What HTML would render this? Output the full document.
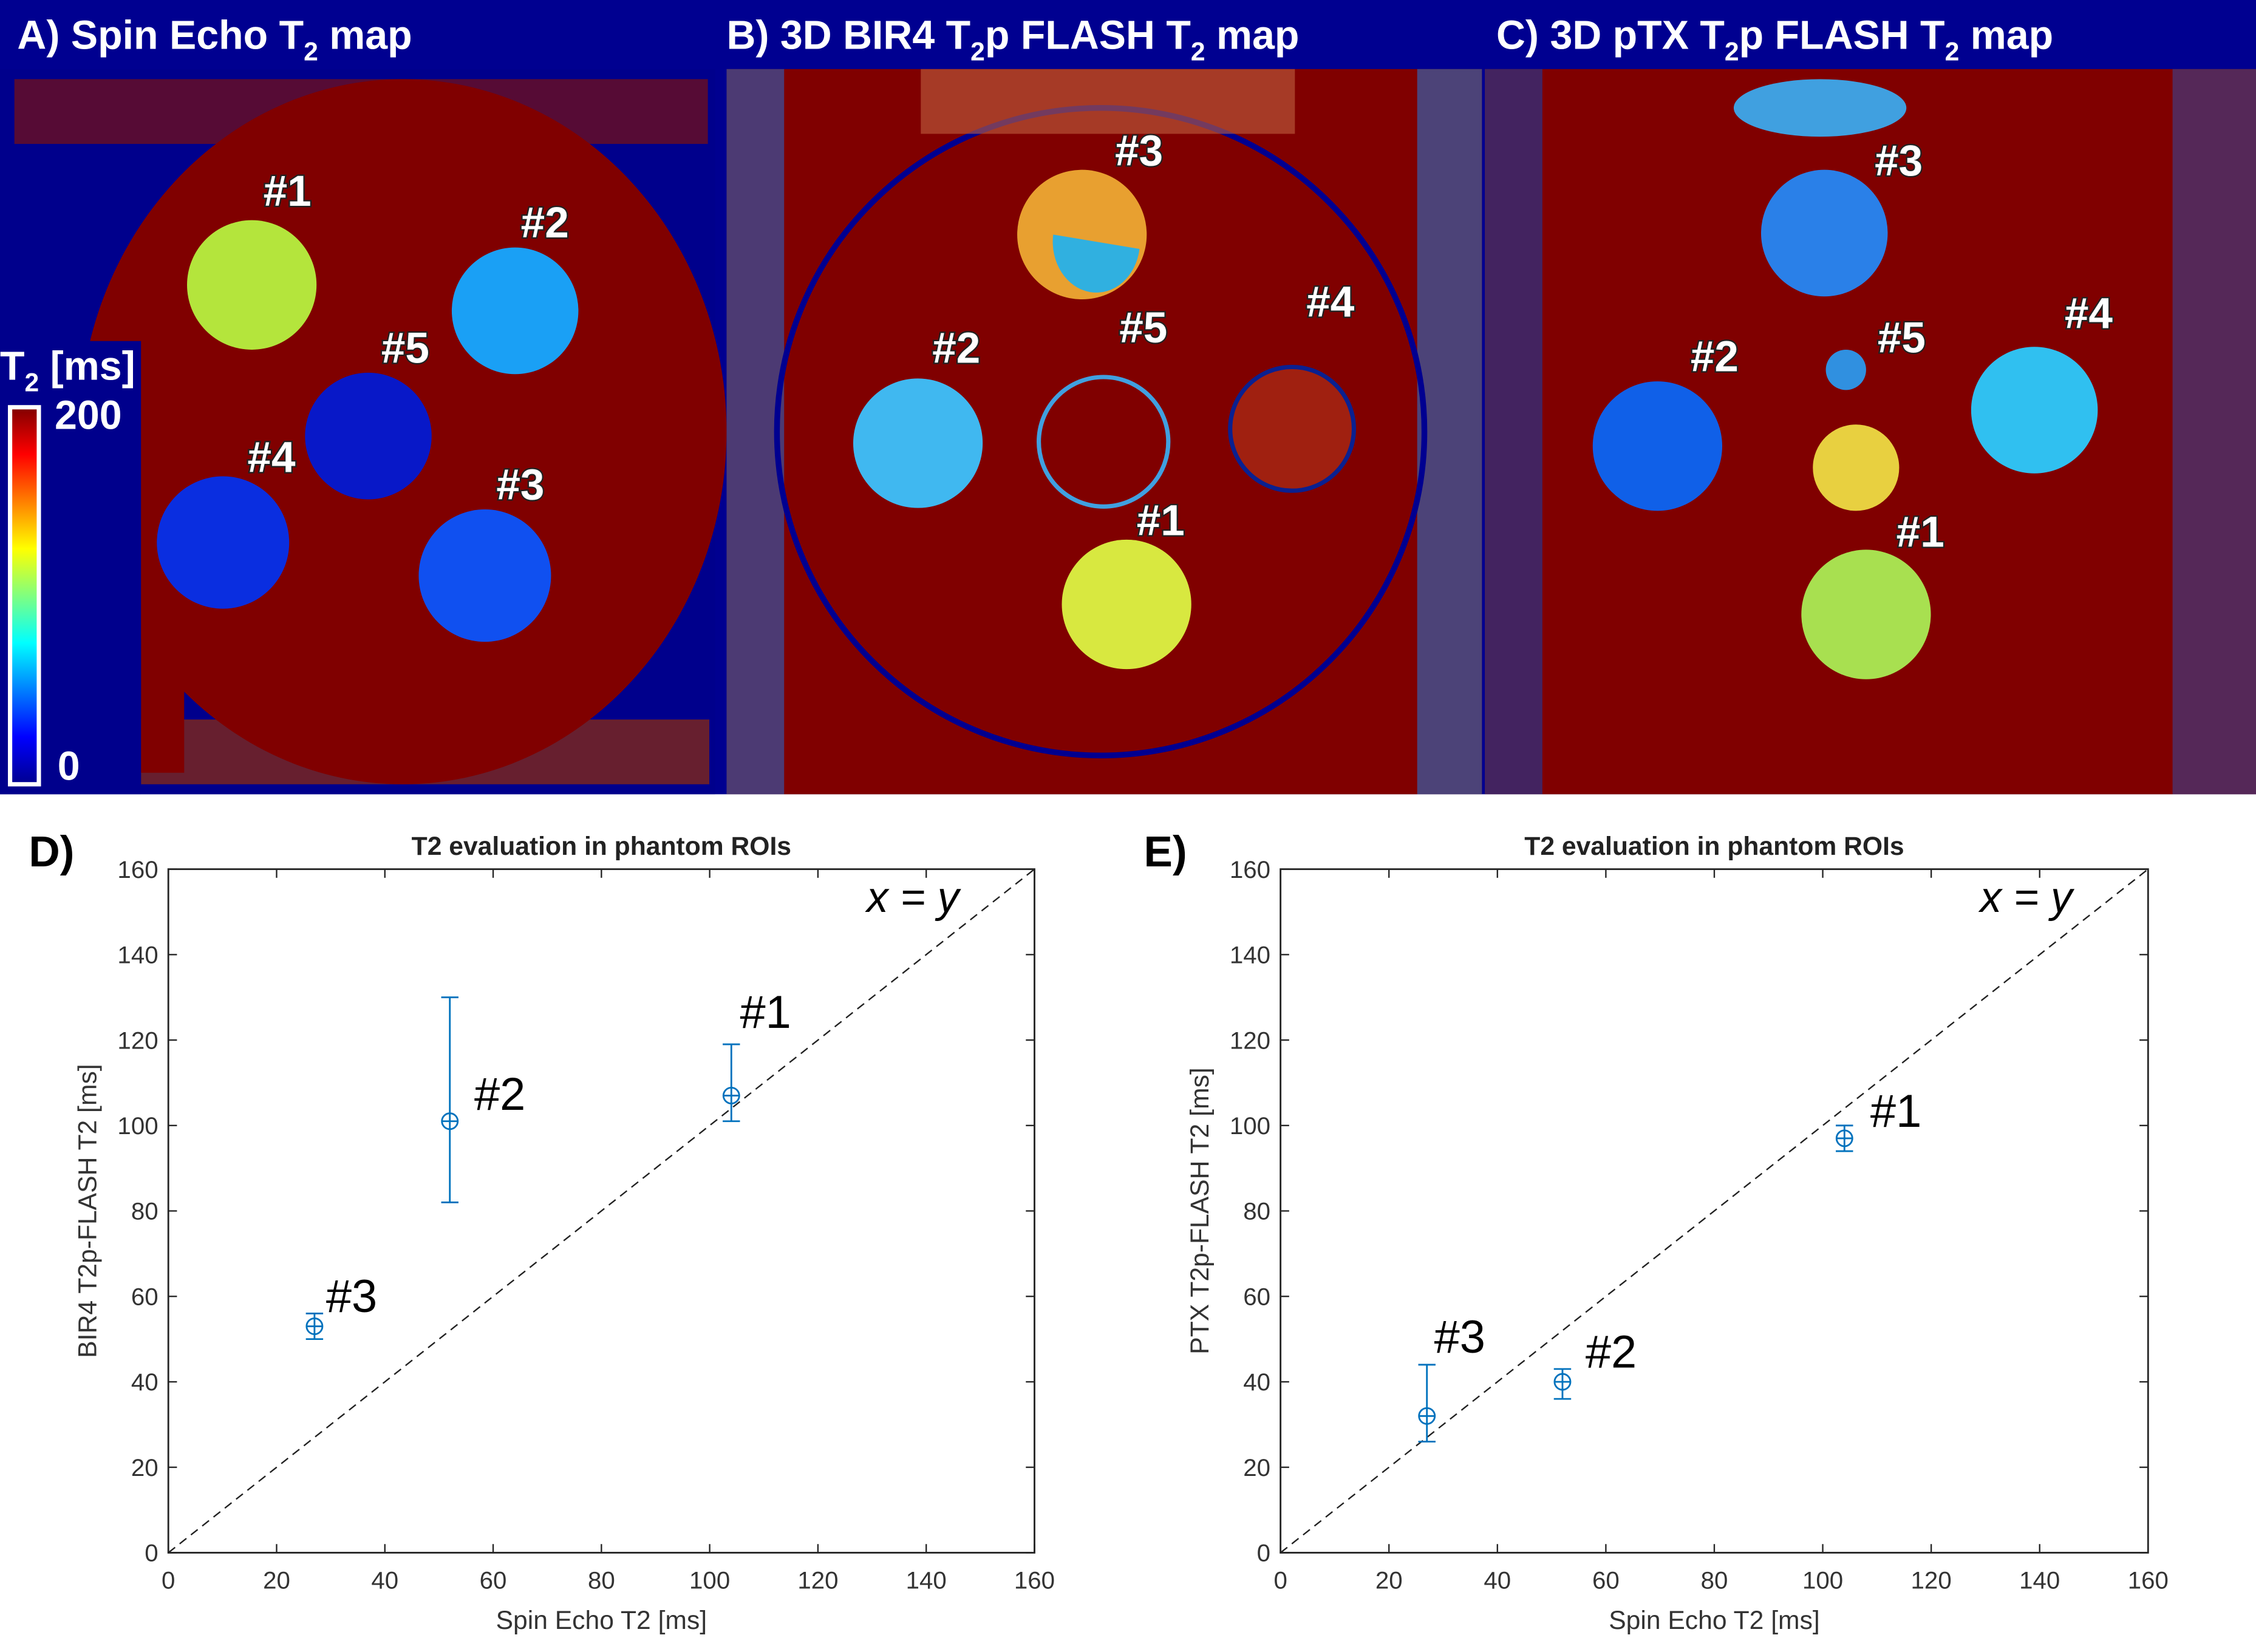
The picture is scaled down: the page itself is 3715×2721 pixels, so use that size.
<!DOCTYPE html>
<html><head><meta charset="utf-8"><style>
html,body{margin:0;padding:0;background:#fff;}
svg{display:block;}
text{font-family:"Liberation Sans",Arial,sans-serif;}
.lbl{fill:#fff;font-weight:bold;font-size:30px;paint-order:stroke;stroke:#222;stroke-width:2px;}
.hdr{fill:#fff;font-weight:bold;font-size:28px;}
.tick{fill:#333;font-size:17px;}
</style></head><body>
<svg id="fig" width="3715" height="2721" viewBox="0 0 1568 1148" preserveAspectRatio="none" xmlns="http://www.w3.org/2000/svg">
<defs>
<linearGradient id="jet" x1="0" y1="1" x2="0" y2="0">
<stop offset="0" stop-color="#00008f"/><stop offset="0.125" stop-color="#0000ff"/><stop offset="0.375" stop-color="#00ffff"/><stop offset="0.625" stop-color="#ffff00"/><stop offset="0.875" stop-color="#ff0000"/><stop offset="1" stop-color="#800000"/>
</linearGradient>
</defs>
<rect x="0" y="0" width="1568" height="552" fill="#000090"/>
<!-- Panel A -->
<g>
<rect x="0" y="48" width="497" height="504" fill="#00008c"/>
<rect x="10" y="55" width="482" height="45" fill="#7a1010" opacity="0.7"/>
<rect x="98" y="500" width="395" height="45" fill="#8a2a10" opacity="0.75"/>
<ellipse cx="280" cy="300" rx="225" ry="245" fill="#800000"/>
<rect x="98" y="237" width="30" height="300" fill="#800000"/>
<circle cx="175" cy="198" r="45" fill="#b4e53c"/>
<circle cx="358" cy="216" r="44" fill="#1aa0f5"/>
<circle cx="256" cy="303" r="44" fill="#0818c8"/>
<circle cx="155" cy="377" r="46" fill="#0a2ee0"/>
<circle cx="337" cy="400" r="46" fill="#1050f0"/>
<rect x="0" y="237" width="98" height="315" fill="#00008c"/>
<rect x="7" y="283" width="20" height="262" fill="url(#jet)" stroke="#fff" stroke-width="3"/>
<text x="0" y="264" class="hdr">T<tspan font-size="18" dy="8">2</tspan><tspan dy="-8"> [ms]</tspan></text>
<text x="38" y="298" class="hdr" font-size="26">200</text>
<text x="40" y="542" class="hdr" font-size="26">0</text>
<text x="183" y="143" class="lbl">#1</text><text x="362" y="165" class="lbl">#2</text>
<text x="265" y="252" class="lbl">#5</text><text x="172" y="328" class="lbl">#4</text><text x="345" y="347" class="lbl">#3</text>
</g>
<!-- Panel B -->
<g>
<rect x="505" y="48" width="525" height="504" fill="#800000"/>
<rect x="505" y="48" width="40" height="504" fill="#2a60c0" opacity="0.6"/>
<rect x="985" y="48" width="45" height="504" fill="#2a70c8" opacity="0.6"/>
<ellipse cx="765" cy="300" rx="225" ry="225" fill="none" stroke="#000090" stroke-width="4"/>
<rect x="640" y="48" width="260" height="45" fill="#c06040" opacity="0.6"/>
<circle cx="752" cy="163" r="45" fill="#e8a030"/><path d="M752 163 m-20 0 a30 35 0 0 0 60 10 z" fill="#30b0e0"/>
<circle cx="638" cy="308" r="45" fill="#40b8f0"/>
<circle cx="767" cy="307" r="45" fill="#800000" stroke="#40a0e0" stroke-width="3"/>
<circle cx="898" cy="298" r="43" fill="#a02010" stroke="#0a2090" stroke-width="3"/>
<circle cx="783" cy="420" r="45" fill="#d8e840"/>
<text x="775" y="115" class="lbl">#3</text><text x="648" y="252" class="lbl">#2</text>
<text x="778" y="238" class="lbl">#5</text><text x="908" y="220" class="lbl">#4</text><text x="790" y="372" class="lbl">#1</text>
</g>
<!-- Panel C -->
<g>
<rect x="1032" y="48" width="536" height="504" fill="#800000"/>
<rect x="1032" y="48" width="40" height="504" fill="#1a3aa0" opacity="0.6"/>
<rect x="1510" y="48" width="58" height="504" fill="#2a50b0" opacity="0.5"/>
<ellipse cx="1265" cy="75" rx="60" ry="20" fill="#40a0e0"/>
<circle cx="1268" cy="162" r="44" fill="#2a80e8"/>
<circle cx="1152" cy="310" r="45" fill="#1060e8"/>
<circle cx="1283" cy="257" r="14" fill="#3090e0"/>
<ellipse cx="1290" cy="325" rx="30" ry="30" fill="#e8d040"/>
<circle cx="1414" cy="285" r="44" fill="#30c0f0"/>
<circle cx="1297" cy="427" r="45" fill="#a8e050"/>
<text x="1303" y="122" class="lbl">#3</text><text x="1175" y="258" class="lbl">#2</text>
<text x="1305" y="245" class="lbl">#5</text><text x="1435" y="228" class="lbl">#4</text><text x="1318" y="380" class="lbl">#1</text>
</g>
<text x="12" y="34" class="hdr">A) Spin Echo T<tspan font-size="18" dy="8">2</tspan><tspan dy="-8"> map</tspan></text>
<text x="505" y="34" class="hdr">B) 3D BIR4 T<tspan font-size="18" dy="8">2</tspan><tspan dy="-8">p FLASH T</tspan><tspan font-size="18" dy="8">2</tspan><tspan dy="-8"> map</tspan></text>
<text x="1040" y="34" class="hdr">C) 3D pTX T<tspan font-size="18" dy="8">2</tspan><tspan dy="-8">p FLASH T</tspan><tspan font-size="18" dy="8">2</tspan><tspan dy="-8"> map</tspan></text>
<rect x="0" y="552" width="1568" height="596" fill="#fff"/>
<text x="20" y="602" font-size="30" font-weight="bold">D)</text>
<text x="795" y="602" font-size="30" font-weight="bold">E)</text>
<g id="chartD"></g>
<g id="chartE"></g>
</svg>
<script>
const ticks = [0,20,40,60,80,100,120,140,160];
const labels = ['#1','#2','#3'];
const dX = [104,52,27];
const dY = [107,101,53];
const dLo = [101,82,50];
const dHi = [119,130,56];
const eX = [104,52,27];
const eY = [97,40,32];
const eLo = [94,36,26];
const eHi = [100,43,44];
const NS='http://www.w3.org/2000/svg';
function mk(tag, attrs, parent){const e=document.createElementNS(NS,tag);for(const k in attrs)e.setAttribute(k,attrs[k]);parent.appendChild(e);return e;}
function chart(g, x0, x1, y0, y1, xs, ys, lo, hi, ylabel, labOff){
  const sx=v=>x0+(v/160)*(x1-x0), sy=v=>y0-(v/160)*(y0-y1);
  const box=mk('rect',{x:x0,y:y1,width:x1-x0,height:y0-y1,fill:'#fff',stroke:'#262626','stroke-width':1.2},g);
  
  
  ticks.forEach(t=>{
    mk('line',{x1:sx(t),x2:sx(t),y1:y0,y2:y0-6,stroke:'#262626'},g);
    mk('line',{x1:sx(t),x2:sx(t),y1:y1,y2:y1+6,stroke:'#262626'},g);
    mk('line',{x1:x0,x2:x0+6,y1:sy(t),y2:sy(t),stroke:'#262626'},g);
    mk('line',{x1:x1,x2:x1-6,y1:sy(t),y2:sy(t),stroke:'#262626'},g);
    const tx=mk('text',{x:sx(t),y:y0+25,'text-anchor':'middle',class:'tick'},g);tx.textContent=t;
    
    
    const ty=mk('text',{x:x0-7,y:sy(t)+6,'text-anchor':'end',class:'tick'},g);ty.textContent=t;
    
    
  });
  const d=mk('line',{x1:sx(0),y1:sy(0),x2:sx(160),y2:sy(160),stroke:'#222','stroke-dasharray':'6,4','stroke-width':1},g);
  
  
  const xy=mk('text',{x:sx(129),y:sy(150),'font-size':30,'font-style':'italic',fill:'#000'},g);xy.textContent='x = y';
  
  
  const tt=mk('text',{x:(x0+x1)/2,y:y1-10,'text-anchor':'middle','font-size':18,'font-weight':'bold',fill:'#222'},g);tt.textContent='T2 evaluation in phantom ROIs';
  
  
  const xl=mk('text',{x:(x0+x1)/2,y:y0+53,'text-anchor':'middle','font-size':18,fill:'#333'},g);xl.textContent='Spin Echo T2 [ms]';
  
  
  const yl=mk('text',{x:0,y:0,'text-anchor':'middle','font-size':18,fill:'#333',transform:`translate(${x0-50},${(y0+y1)/2}) rotate(-90)`},g);yl.textContent=ylabel;
  
  
  xs.forEach((v,i)=>{
    const pg=mk('g',{},g);
    
    
    const c='#0072bd';
    mk('line',{x1:sx(v),x2:sx(v),y1:sy(lo[i]),y2:sy(hi[i]),stroke:c,'stroke-width':1.2},pg);
    mk('line',{x1:sx(v)-6,x2:sx(v)+6,y1:sy(lo[i]),y2:sy(lo[i]),stroke:c,'stroke-width':1.2},pg);
    mk('line',{x1:sx(v)-6,x2:sx(v)+6,y1:sy(hi[i]),y2:sy(hi[i]),stroke:c,'stroke-width':1.2},pg);
    mk('line',{x1:sx(v)-5,x2:sx(v)+5,y1:sy(ys[i]),y2:sy(ys[i]),stroke:c,'stroke-width':1.2},pg);
    mk('circle',{cx:sx(v),cy:sy(ys[i]),r:5.5,fill:'none',stroke:c,'stroke-width':1.2},pg);
    const l=mk('text',{x:sx(v)+labOff[i][0],y:sy(ys[i])+labOff[i][1],'font-size':32,fill:'#000'},pg);l.textContent=labels[i];
  });
}
chart(document.getElementById('chartD'),117,719,1079,604,dX,dY,dLo,dHi,'BIR4 T2p-FLASH T2 [ms]',[[6,-47],[17,-8],[8,-10]]);
chart(document.getElementById('chartE'),890,1493,1079,604,eX,eY,eLo,eHi,'PTX T2p-FLASH T2 [ms]',[[18,-8],[16,-10],[5,-44]]);
</script>
</body></html>
